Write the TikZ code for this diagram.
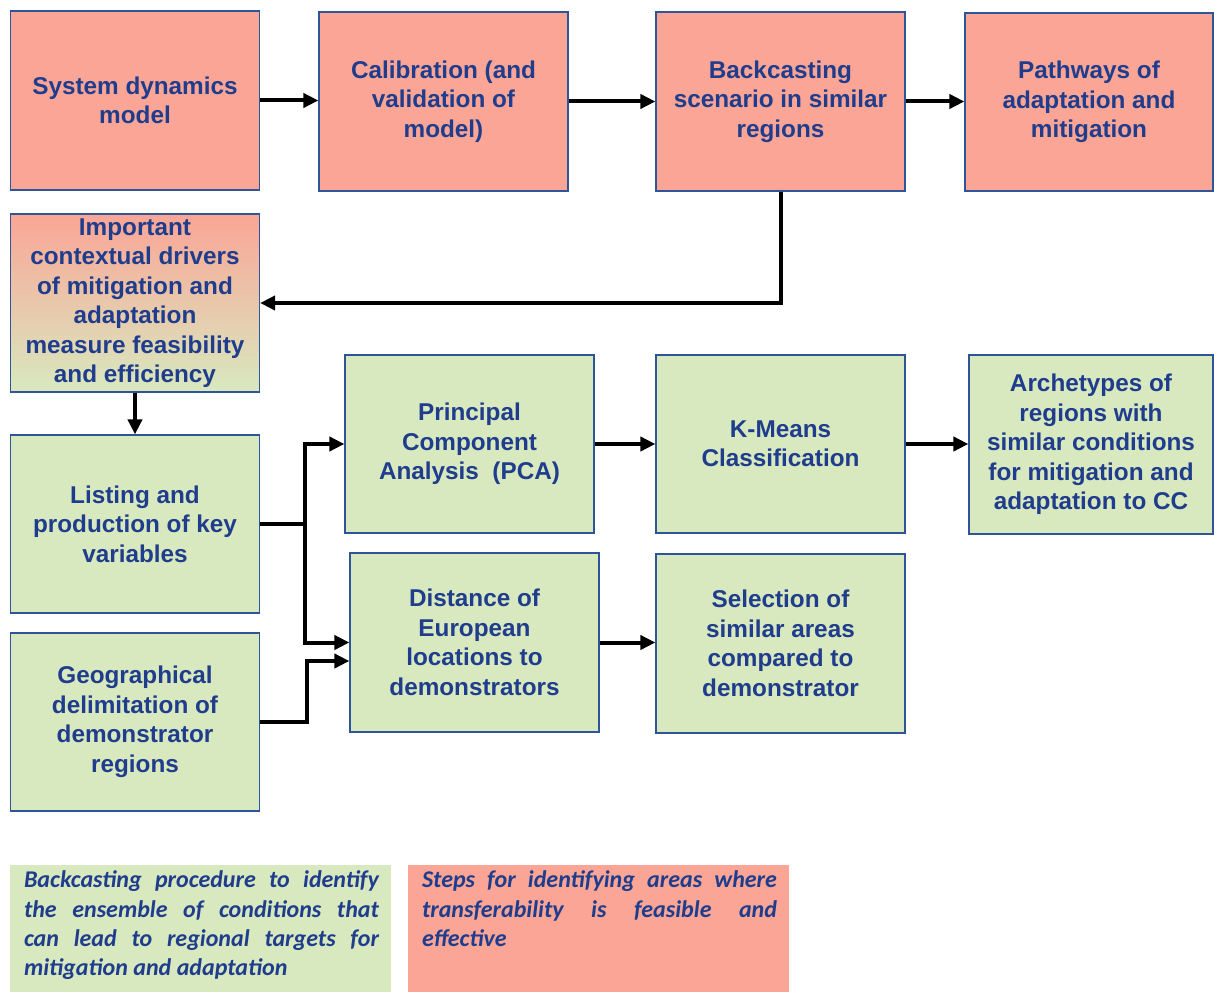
\documentclass[tikz,border=0pt]{standalone}
\usepackage{fontspec}
\setmainfont{Liberation Sans}
\newfontfamily\legendfont{Carlito}
\usetikzlibrary{arrows.meta,calc}
\definecolor{salmon}{HTML}{FAA596}
\definecolor{pgreen}{HTML}{D8E9BF}
\definecolor{tblue}{HTML}{1F3D8C}
\definecolor{bblue}{HTML}{2E5597}
\begin{document}
\begin{tikzpicture}[x=1pt,y=-1pt,
  box/.style={draw=bblue,line width=1.2pt,align=center,text=tblue,
    font=\bfseries\fontsize{24.3}{29.5}\selectfont,inner sep=0pt,
    minimum width=249pt,minimum height=179pt},
  redbox/.style={box,fill=salmon},
  greenbox/.style={box,fill=pgreen},
  legend/.style={inner sep=0pt,minimum width=381pt,minimum height=127pt},
  legtext/.style={anchor=north west,inner sep=0pt,text width=355pt,align=justify,
    text=tblue,font=\legendfont\bfseries\itshape\fontsize{24}{29.3}\selectfont},
  arr/.style={line width=4pt,-{Triangle[length=15pt,width=14pt]}},
  ln/.style={line width=4pt}]
\useasboundingbox (0,0) rectangle (1214,992);

\node[redbox] (b1) at (135,100.5) {System dynamics\\model};
\node[redbox] (b2) at (443.5,101.5) {Calibration (and\\validation of\\model)};
\node[redbox] (b3) at (780.5,101.5) {Backcasting\\scenario in similar\\regions};
\node[redbox,minimum width=248pt,minimum height=178pt] (b4) at (1089,102) {Pathways of\\adaptation and\\mitigation};
\node[box,top color=salmon,bottom color=pgreen,minimum height=178pt] (b5) at (135,303)
  {Important\\contextual drivers\\of mitigation and\\adaptation\\measure feasibility\\and efficiency};
\node[greenbox,minimum height=178pt] (b6) at (135,524) {Listing and\\production of key\\variables};
\node[greenbox,minimum height=178pt] (b7) at (135,722) {Geographical\\delimitation of\\demonstrator\\regions};
\node[greenbox,minimum height=178pt] (b8) at (469.5,444) {Principal\\Component\\Analysis~ (PCA)};
\node[greenbox,minimum height=178pt] (b9) at (780.5,444) {K-Means\\Classification};
\node[greenbox,minimum width=244pt] (b10) at (1091,444.5) {Archetypes of\\regions with\\similar conditions\\for mitigation and\\adaptation to CC};
\node[greenbox] (b11) at (474.5,642.5) {Distance of\\European\\locations to\\demonstrators};
\node[greenbox] (b12) at (780.5,643.5) {Selection of\\similar areas\\compared to\\demonstrator};

\node[legend,fill=pgreen] (l1) at (200.5,928.5) {};
\node[legend,fill=salmon] (l2) at (598.5,928.5) {};
\node[legtext] (t1) at ($(l1.north west)+(14,6)$)
  {Backcasting procedure to identify\linebreak the ensemble of conditions that\linebreak can lead to regional targets for\linebreak mitigation and adaptation};
\node[legtext] (t2) at ($(l2.north west)+(14,6)$)
  {Steps for identifying areas where\linebreak transferability is feasible and\linebreak effective};

\draw[arr] (b1.east) -- (b1.east -| b2.west);
\draw[arr] (b2.east) -- (b2.east -| b3.west);
\draw[arr] (b3.east) -- (b3.east -| b4.west);
\draw[arr] (b3.south) |- (b5.east);
\draw[arr] (b5.south) -- (b6.north);
\draw[ln] (b6.east) -- ++(45,0) coordinate (j1);
\draw[arr] (j1) |- (b8.west);
\draw[arr] (j1) |- (b11.west);
\draw[arr] (b7.east) -- ++(47,0) |- ($(b11.west)+(0,18.5)$);
\draw[arr] (b8.east) -- (b8.east -| b9.west);
\draw[arr] (b9.east) -- (b9.east -| b10.west);
\draw[arr] (b11.east) -- (b11.east -| b12.west);
\end{tikzpicture}
\end{document}
